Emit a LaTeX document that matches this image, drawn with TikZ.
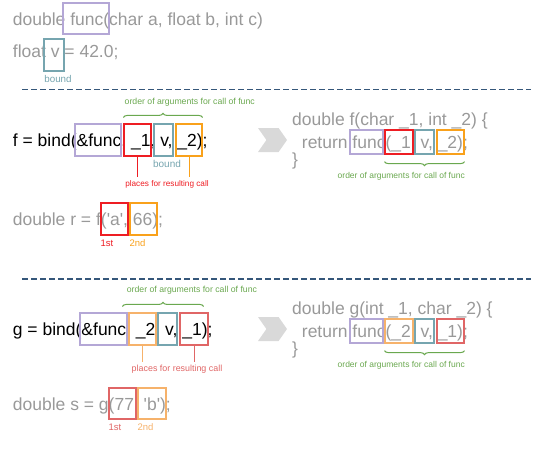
\documentclass[tikz,border=0pt]{standalone}
\usepackage{fontspec}
\setmainfont{Liberation Sans}[Ligatures=TeXOff]
\usetikzlibrary{shapes.symbols, decorations.pathreplacing}
\definecolor{codegray}{HTML}{999999}
\definecolor{boxfunc}{HTML}{B4A7D6}
\definecolor{boxv}{HTML}{76A5AF}
\definecolor{boxred}{HTML}{EE1D23}
\definecolor{boxorange}{HTML}{F9A11B}
\definecolor{palered}{HTML}{E06666}
\definecolor{paleorange}{HTML}{F6B26B}
\definecolor{bracegreen}{HTML}{6AA84F}
\definecolor{sepblue}{HTML}{35577A}
\definecolor{chevgray}{HTML}{D9D9D9}
\tikzstyle{code} = [anchor=base west, inner sep=0pt, text=codegray, font=\fontsize{17.5}{20}\selectfont]
\tikzstyle{bindcode} = [code, text=black]
\tikzstyle{hl} = [rectangle, draw, line width=1.2pt, inner sep=0pt, minimum height=32pt]
\tikzstyle{rethl} = [hl, minimum height=24pt]
\tikzstyle{note} = [inner sep=0pt, font=\fontsize{8.7}{10}\selectfont]
\tikzstyle{places} = [note, inner sep=3pt, font=\fontsize{8.2}{10}\selectfont]
\tikzstyle{nth} = [note, anchor=north west, font=\fontsize{9.5}{10}\selectfont, yshift=-4pt]
\tikzstyle{order} = [decorate, decoration={brace, amplitude=4pt}, draw=bracegreen, line width=1pt]
\tikzstyle{sep} = [draw=sepblue, line width=1.2pt, dash pattern=on 6pt off 3pt]
\tikzstyle{goes} = [signal, signal to=east, signal from=west, signal pointer angle=110, fill=chevgray, minimum width=29pt, minimum height=24pt, inner sep=0pt]
\tikzstyle{lead} = [line width=1pt]
\begin{document}
\begin{tikzpicture}[x=1pt, y=-1pt]
\useasboundingbox (0,0) rectangle (540,451);
\node (sig) [code] at (12.7,25.5) {double func(char a, float b, int c)};
\node (decl) [code] at (12.7,57) {float v = 42.0;};
\node (sigfunc) [hl, draw=boxfunc, minimum width=46pt, minimum height=31pt] at (86,18.5) {};
\node (declv) [hl, draw=boxv, minimum width=20pt] at (54,55) {};
\node (declbound) [note, text=boxv, font=\fontsize{9.8}{10}\selectfont] at (58,79) {bound};
\draw [sep] (22,89.5) -- (531,89.5);
\node (fbind) [bindcode] at (12.7,146.5) {f = bind(\&func, \_1, v, \_2);};
\node (ffunc) [hl, draw=boxfunc, minimum width=46pt] at (98,140) {};
\node (fone) [hl, draw=boxred, minimum width=27pt] at (137.5,140) {};
\node (fv) [hl, draw=boxv, minimum width=19pt] at (163.5,140) {};
\node (ftwo) [hl, draw=boxorange, minimum width=26pt] at (189,140) {};
\draw [order] ([yshift=6pt]fone.north west) -- ([yshift=6pt]ftwo.north east);
\node (forder) [note, anchor=west, text=bracegreen] at (124.5,102) {order of arguments for call of func};
\node (fbound) [note, text=boxv, font=\fontsize{10}{10}\selectfont] at (167,164) {bound};
\node (fplaces) [places, text=boxred] at (167,184) {places for resulting call};
\draw [lead, boxred] (fone) -- (fone |- fplaces.north);
\draw [lead, boxorange] (ftwo) -- (ftwo |- fplaces.north);
\node (fgoes) [goes] at (272.5,140) {};
\node (fdef) [code] at (292,125.5) {double f(char \_1, int \_2) \{};
\node (fret) [code] at (292,148) {\ \ return func(\_1, v, \_2);};
\node (fend) [code] at (292,165) {\}};
\node (rffunc) [rethl, draw=boxfunc, minimum width=33pt] at (366.5,142) {};
\node (rfone) [rethl, draw=boxred, minimum width=28pt] at (399,142) {};
\node (rfv) [rethl, draw=boxv, minimum width=19pt] at (424.5,142) {};
\node (rftwo) [rethl, draw=boxorange, minimum width=27pt] at (450.5,142) {};
\draw [order] ([yshift=-7pt]rftwo.south east) -- ([yshift=-7pt]rfone.south west);
\node (rforder) [note, anchor=east, text=bracegreen, font=\fontsize{8.5}{10}\selectfont] at (465,176) {order of arguments for call of func};
\node (rcall) [code] at (12.7,225.5) {double r = f('a', 66);};
\node (rone) [hl, draw=boxred, minimum width=27pt] at (114.5,219) {};
\node (rtwo) [hl, draw=boxorange, minimum width=27pt] at (143.5,219) {};
\node (rfirst) [nth, text=boxred] at (rone.south west) {1st};
\node (rsecond) [nth, text=boxorange] at (rtwo.south west) {2nd};
\draw [sep] (22,279) -- (531,279);
\node (gbind) [bindcode] at (12.7,335.5) {g = bind(\&func, \_2, v, \_1);};
\node (gfunc) [hl, draw=boxfunc, minimum width=47pt] at (103.5,329) {};
\node (gtwo) [hl, draw=paleorange, minimum width=27pt] at (142.5,329) {};
\node (gv) [hl, draw=boxv, minimum width=19pt] at (167.5,329) {};
\node (gone) [hl, draw=palered, minimum width=28pt] at (194,329) {};
\draw [order] ([xshift=-6pt, yshift=6pt]gtwo.north west) -- ([xshift=-5pt, yshift=6pt]gone.north east);
\node (gorder) [note, anchor=west, text=bracegreen] at (126.7,290) {order of arguments for call of func};
\node (gplaces) [places, text=palered, font=\fontsize{8.9}{10}\selectfont] at (177,369) {places for resulting call};
\draw [lead, paleorange] (gtwo) -- (gtwo |- gplaces.north);
\draw [lead, palered] (gone) -- (gone |- gplaces.north);
\node (ggoes) [goes] at (272.5,329) {};
\node (gdef) [code] at (292,314.5) {double g(int \_1, char \_2) \{};
\node (gret) [code] at (292,337) {\ \ return func(\_2, v, \_1);};
\node (gend) [code] at (292,354) {\}};
\node (rgfunc) [rethl, draw=boxfunc, minimum width=33pt] at (366.5,331) {};
\node (rgtwo) [rethl, draw=paleorange, minimum width=28pt] at (399,331) {};
\node (rgv) [rethl, draw=boxv, minimum width=19pt] at (424.5,331) {};
\node (rgone) [rethl, draw=palered, minimum width=27pt] at (450.5,331) {};
\draw [order] ([yshift=-7pt]rgone.south east) -- ([yshift=-7pt]rgtwo.south west);
\node (rgorder) [note, anchor=east, text=bracegreen, font=\fontsize{8.5}{10}\selectfont] at (465,365) {order of arguments for call of func};
\node (scall) [code] at (12.7,410.5) {double s = g(77, 'b');};
\node (sone) [hl, draw=palered, minimum width=27pt, minimum height=31pt] at (122.5,403.5) {};
\node (stwo) [hl, draw=paleorange, minimum width=28pt, minimum height=31pt] at (152,403.5) {};
\node (sfirst) [nth, text=palered] at (sone.south west) {1st};
\node (ssecond) [nth, text=paleorange] at (stwo.south west) {2nd};
\end{tikzpicture}
\end{document}
